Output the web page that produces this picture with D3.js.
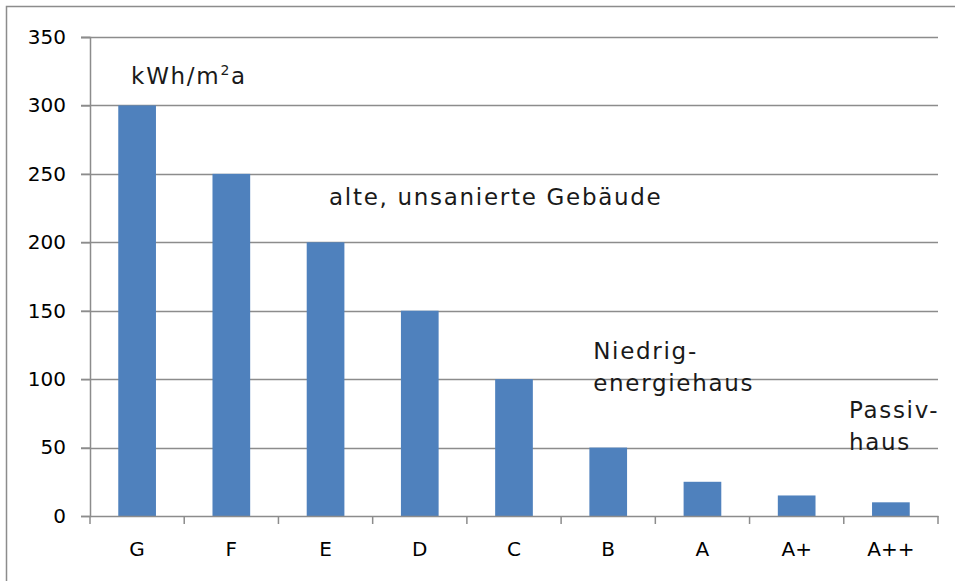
<!DOCTYPE html>
<html><head><meta charset="utf-8">
<script src="https://cdn.jsdelivr.net/npm/d3@7"></script>
<style>body{margin:0;background:#fff}svg{display:block}</style>
</head><body>
<svg id="c" width="955" height="581"></svg>
<script>
const categories = ["G","F","E","D","C","B","A","A+","A++"];
const values = [300,250,200,150,100,50,25,15,10];
const yTicks = [0,50,100,150,200,250,300,350];
const noteTexts = [["kWh/m²a"], ["alte, unsanierte Gebäude"], ["Niedrig-","energiehaus"], ["Passiv-","haus"]];
const noteCategories = ["G","E","B","A++"];
const noteValues = [316,227,115,71.5];

(function(){
const svg = d3.select("#c");
const L = 90, R = 938, T = 37, B = 516;
const x = d3.scaleBand().domain(categories).range([L, R]).paddingInner(0.6).paddingOuter(0.3);
const y = d3.scaleLinear().domain([0,350]).range([B, T]);
const grid = "#8c8c8c";
const tickFont = "'DejaVu Sans', sans-serif";
const noteFont = "'DejaVu Sans', sans-serif";
const noteDx = [-6, 3.5, -15, -42];

svg.append("rect").attr("x",6.5).attr("y",6.5).attr("width",1000).attr("height",1000)
  .attr("fill","none").attr("stroke","#8c8c8c").attr("stroke-width",1.5);

svg.append("g").selectAll("line").data(yTicks.filter(d=>d>0)).join("line")
  .attr("x1",81).attr("x2",R).attr("y1",d=>Math.round(y(d))+0.5).attr("y2",d=>Math.round(y(d))+0.5)
  .attr("stroke",grid).attr("stroke-width",1.5);

svg.append("g").selectAll("rect").data(categories).join("rect")
  .attr("x",d=>x(d)).attr("width",x.bandwidth())
  .attr("y",(d,i)=>y(values[i])).attr("height",(d,i)=>B - y(values[i]))
  .attr("fill","#4f81bd");

const ya = d3.axisLeft(y).tickValues(yTicks).tickSize(9).tickPadding(15);
const yg = svg.append("g").attr("transform",`translate(${L},0)`).call(ya);
yg.select(".domain").attr("stroke",grid).attr("stroke-width",1.5);
yg.selectAll(".tick line").attr("stroke",grid).attr("stroke-width",1.5);
yg.selectAll(".tick text").attr("font-family",tickFont).attr("font-size",20).attr("fill","#000");

const xa = d3.axisBottom(x).tickSize(0).tickPadding(26);
const xg = svg.append("g").attr("transform",`translate(0,${B})`).call(xa);
xg.select(".domain").attr("stroke",grid).attr("stroke-width",1.5);
xg.selectAll(".tick text").attr("font-family",tickFont).attr("font-size",20).attr("fill","#000");
const bounds = categories.map(c=>x(c) - x.step()*x.paddingInner()/2).concat([R]);
bounds[0] = L;
svg.append("g").selectAll("line").data(bounds).join("line")
  .attr("x1",d=>d).attr("x2",d=>d).attr("y1",B).attr("y2",B+8)
  .attr("stroke",grid).attr("stroke-width",1.5);

const ng = svg.append("g").attr("font-family",noteFont).attr("font-size",23)
  .attr("letter-spacing",1.7).attr("fill","#1a1a1a");
noteTexts.forEach((lines,k)=>{
  const x0 = x(noteCategories[k]) + x.bandwidth()/2 + noteDx[k];
  const t = ng.append("text").attr("x", x0).attr("y", y(noteValues[k]));
  lines.forEach((l,i)=>{
    const ts = t.append("tspan").attr("x", x0).attr("dy", i===0?0:32);
    if (l.includes("²")) {
      ts.text("kWh/m");
      ts.append("tspan").attr("font-size",14).attr("dy",-9).text("2");
      ts.append("tspan").attr("dy",9).text("a");
    } else ts.text(l);
  });
});
})();
</script>
</body></html>
